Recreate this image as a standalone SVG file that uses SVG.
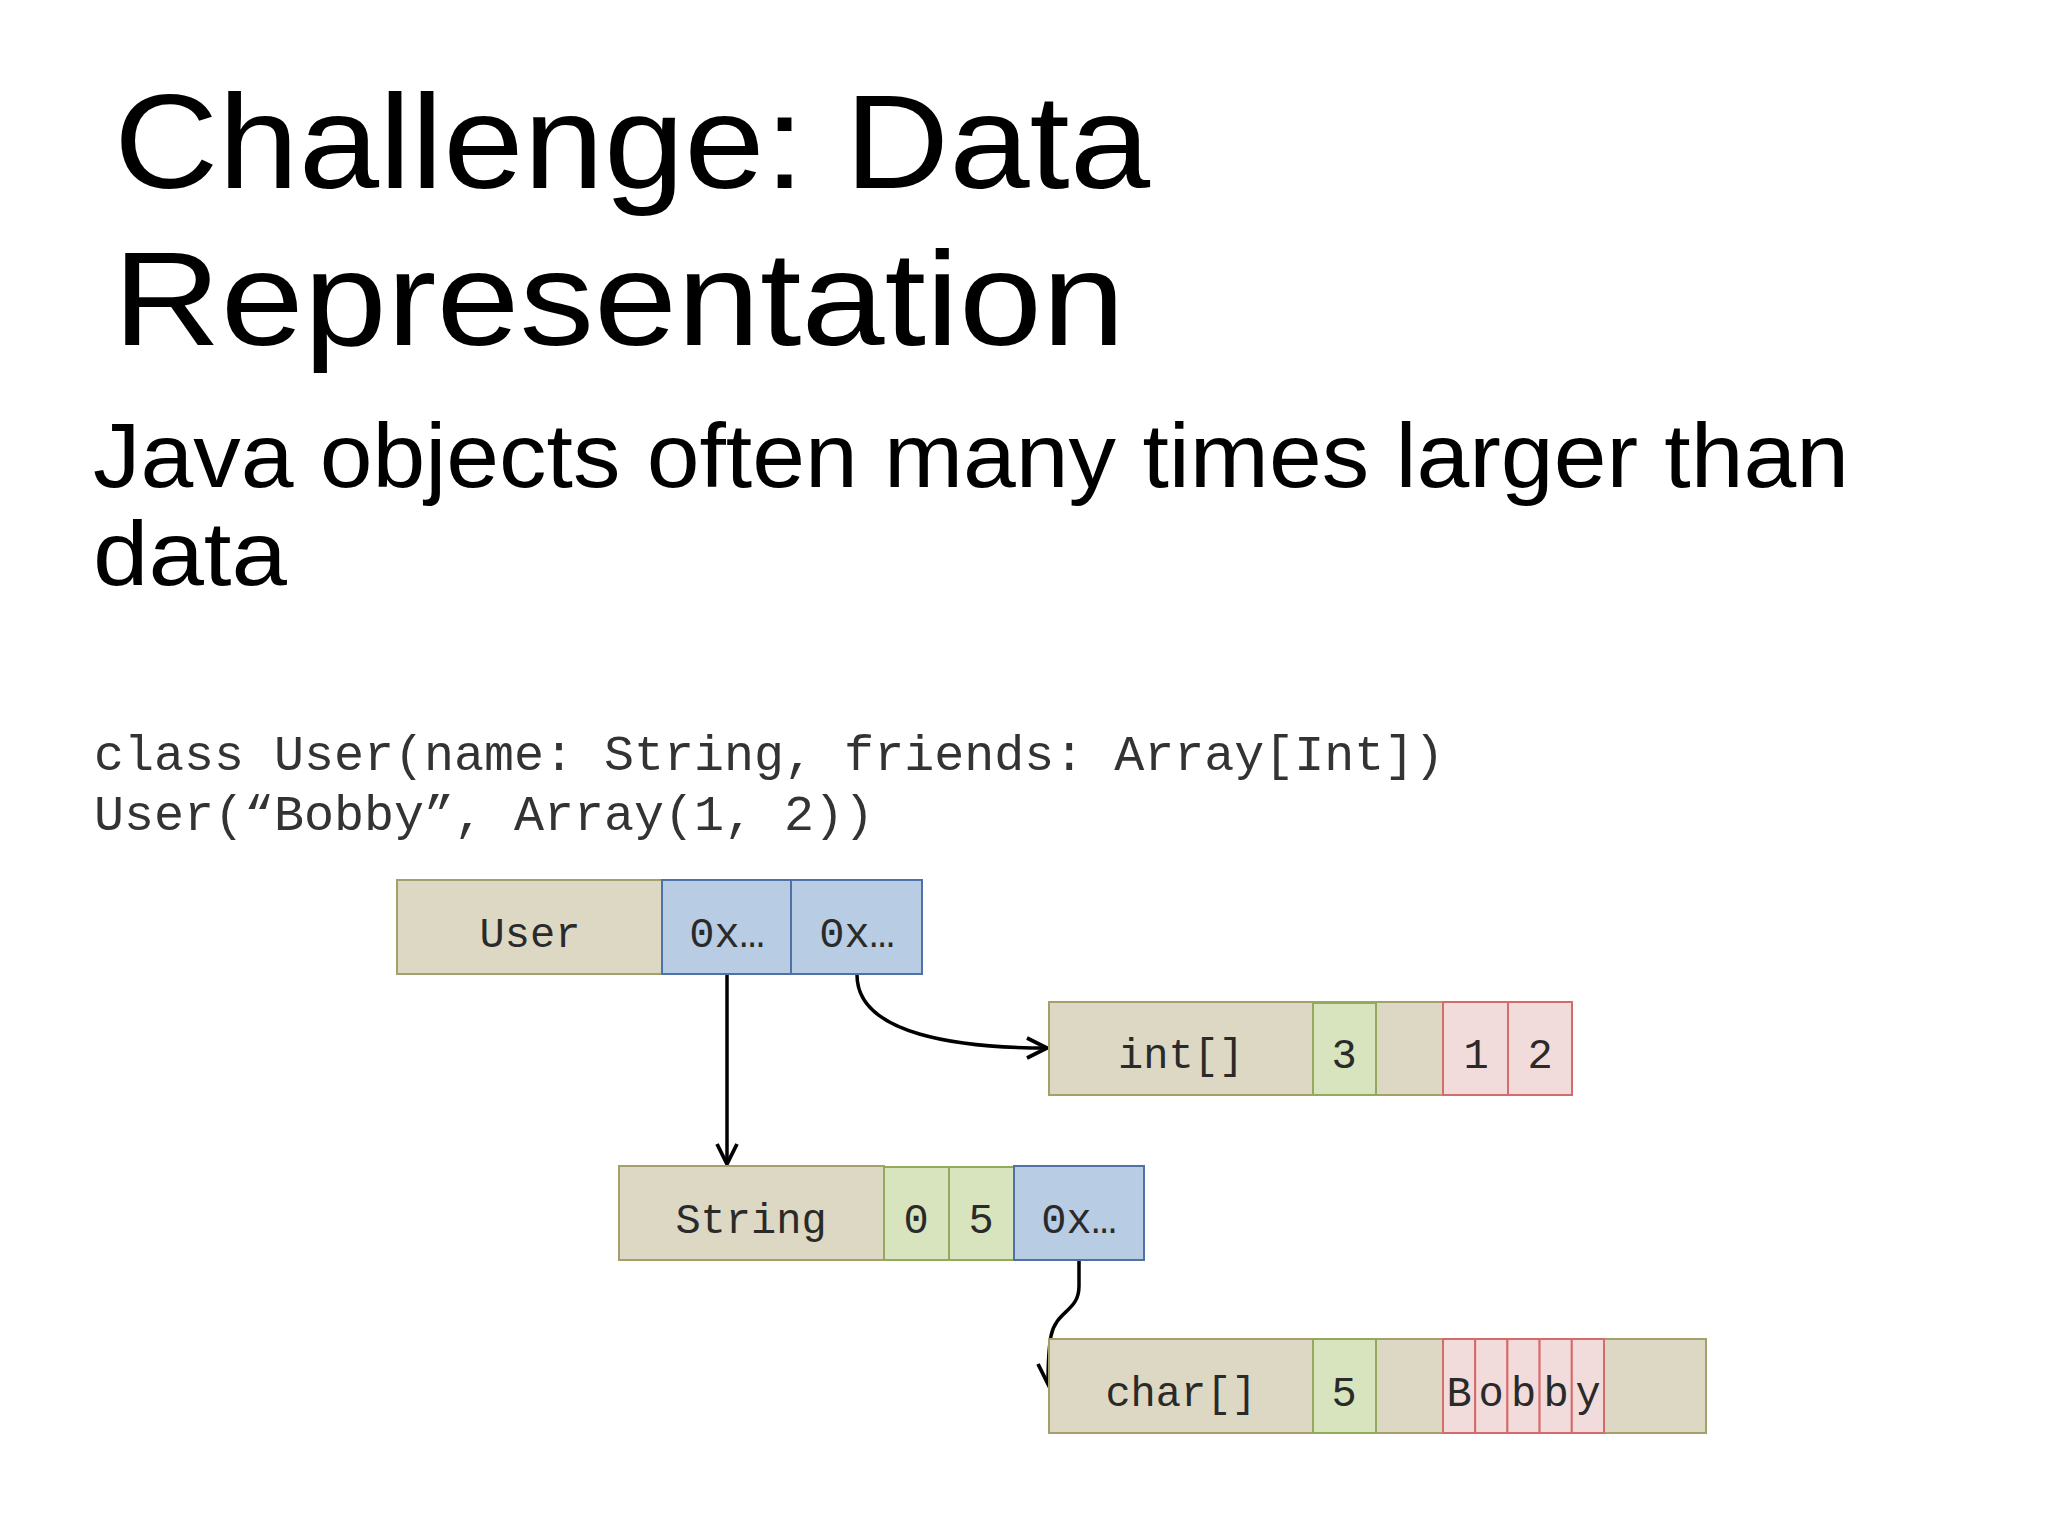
<svg xmlns="http://www.w3.org/2000/svg" width="2048" height="1536" viewBox="0 0 2048 1536">
<defs>
<style>
.title{font-family:"Liberation Sans",Arial,sans-serif;font-size:134px;fill:#000}
.sub{font-family:"Liberation Sans",Arial,sans-serif;font-size:91px;fill:#000}
.code{font-family:"Liberation Mono","Courier New",monospace;font-size:50px;fill:#333}
.lbl{font-family:"Liberation Mono","Courier New",monospace;font-size:42px;fill:#2a2a2a;text-anchor:middle}
.tan{fill:#ddd8c3;stroke:#a3a06c;stroke-width:2}
.blue{fill:#b8cce4;stroke:#4e72a6;stroke-width:2}
.green{fill:#d7e4bd;stroke:#93aa5e;stroke-width:2}
.red{fill:#f2dcdb;stroke:#d46c6c;stroke-width:2}
.conn{fill:none;stroke:#000;stroke-width:3.5;marker-end:url(#arr)}
</style>
<marker id="arr" markerUnits="userSpaceOnUse" markerWidth="30" markerHeight="30" viewBox="-20 -12 24 24" refX="0" refY="0" orient="auto">
<path d="M-16,-8 L0,0 L-16,8" fill="none" stroke="#000" stroke-width="3"/>
</marker>
</defs>
<rect width="2048" height="1536" fill="#fff"/>

<g id="title">
<text class="title" x="114" y="188" textLength="1036" lengthAdjust="spacingAndGlyphs">Challenge: Data</text>
<text class="title" x="113" y="345" textLength="1012" lengthAdjust="spacingAndGlyphs">Representation</text>
</g>
<g id="subtitle">
<text class="sub" x="93" y="487" textLength="1756" lengthAdjust="spacingAndGlyphs">Java objects often many times larger than</text>
<text class="sub" x="93" y="585" textLength="194" lengthAdjust="spacingAndGlyphs">data</text>
</g>
<g id="code">
<text class="code" x="94" y="770">class User(name: String, friends: Array[Int])</text>
<text class="code" x="94" y="830">User(“Bobby”, Array(1, 2))</text>
</g>

<g id="connectors">
<path class="conn" d="M727,975 L727,1164"/>
<path class="conn" d="M857,975 C857,1035 960,1048 1047,1048"/>
<path class="conn" d="M1079,1260 L1079,1286 C1079,1312 1056,1310 1051,1336 C1048,1352 1048,1368 1048,1384"/>
</g>

<g id="user">
<rect class="tan" x="397" y="880" width="265" height="94"/>
<rect class="blue" x="662" y="880" width="129" height="94"/>
<rect class="blue" x="791" y="880" width="131" height="94"/>
<text class="lbl" x="530" y="947">User</text>
<text class="lbl" x="727" y="947">0x…</text>
<text class="lbl" x="857" y="947">0x…</text>
</g>

<g id="int-array">
<rect class="tan" x="1049" y="1002" width="523" height="93"/>
<rect class="tan" x="1049" y="1002" width="264" height="93"/>
<rect class="green" x="1313" y="1003" width="63" height="92"/>
<rect class="red" x="1443" y="1002" width="65" height="93"/>
<rect class="red" x="1508" y="1002" width="64" height="93"/>
<text class="lbl" x="1181" y="1068">int[]</text>
<text class="lbl" x="1344" y="1068">3</text>
<text class="lbl" x="1476" y="1068">1</text>
<text class="lbl" x="1540" y="1068">2</text>
</g>

<g id="string">
<rect class="tan" x="619" y="1166" width="265" height="94"/>
<rect class="green" x="884" y="1167" width="65" height="93"/>
<rect class="green" x="949" y="1167" width="65" height="93"/>
<rect class="blue" x="1014" y="1166" width="130" height="94"/>
<text class="lbl" x="751" y="1233">String</text>
<text class="lbl" x="916" y="1233">0</text>
<text class="lbl" x="981" y="1233">5</text>
<text class="lbl" x="1079" y="1233">0x…</text>
</g>

<g id="char-array">
<rect class="tan" x="1049" y="1339" width="657" height="94"/>
<rect class="tan" x="1049" y="1339" width="264" height="94"/>
<rect class="green" x="1313" y="1339" width="63" height="94"/>
<rect class="red" x="1443" y="1339" width="32.2" height="94"/>
<rect class="red" x="1475.2" y="1339" width="32.2" height="94"/>
<rect class="red" x="1507.4" y="1339" width="32.2" height="94"/>
<rect class="red" x="1539.6" y="1339" width="32.2" height="94"/>
<rect class="red" x="1571.8" y="1339" width="32.2" height="94"/>
<text class="lbl" x="1181" y="1406">char[]</text>
<text class="lbl" x="1344" y="1406">5</text>
<text class="lbl" x="1459" y="1406">B</text>
<text class="lbl" x="1491" y="1406">o</text>
<text class="lbl" x="1523.5" y="1406">b</text>
<text class="lbl" x="1556" y="1406">b</text>
<text class="lbl" x="1588" y="1406">y</text>
</g>
</svg>
